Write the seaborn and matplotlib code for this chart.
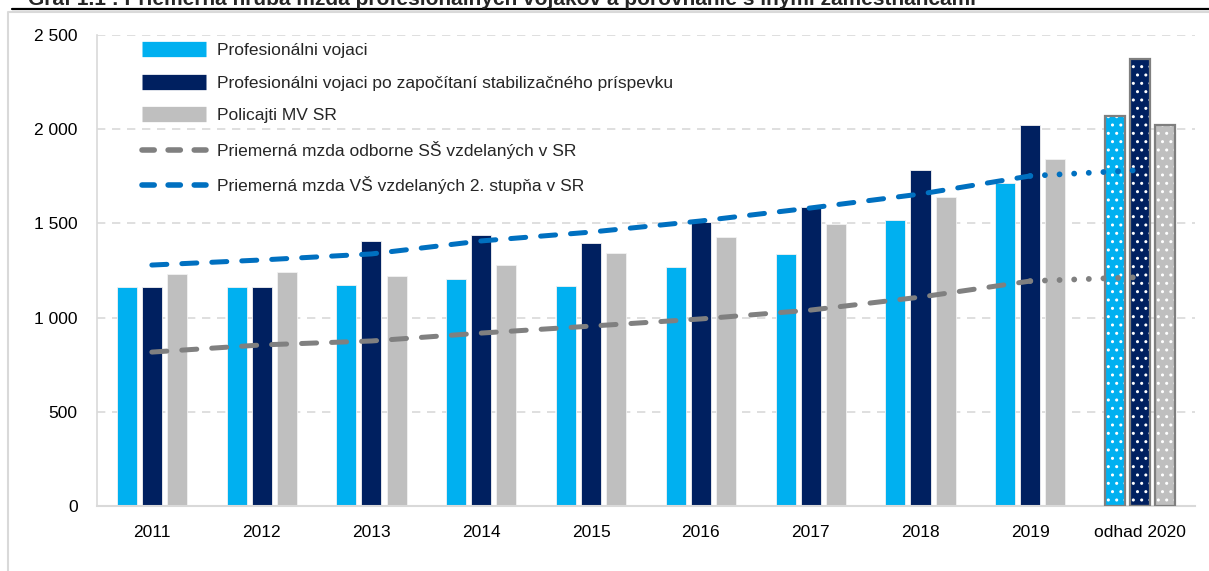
import numpy as np
import pandas as pd
import matplotlib
matplotlib.use("Agg")
import matplotlib.pyplot as plt
import seaborn as sns
from matplotlib.lines import Line2D
from matplotlib.patches import Rectangle
from matplotlib.ticker import FuncFormatter, MultipleLocator

# data
roky = ["2011", "2012", "2013", "2014", "2015", "2016", "2017", "2018", "2019", "odhad 2020"]
vojaci = [1162, 1162, 1173, 1205, 1168, 1269, 1338, 1518, 1714, 2070]
vojaci_stab = [1162, 1162, 1407, 1438, 1396, 1507, 1587, 1783, 2022, 2373]
policajti = [1231, 1242, 1221, 1279, 1343, 1428, 1497, 1640, 1842, 2022]
mzda_ss = [817, 855, 876, 918, 955, 993, 1040, 1109, 1194, 1215]
mzda_vs = [1279, 1306, 1338, 1407, 1454, 1513, 1582, 1656, 1752, 1783]

lab_voj = "Profesionálni vojaci"
lab_stab = "Profesionálni vojaci po započítaní stabilizačného príspevku"
lab_pol = "Policajti MV SR"
lab_ss = "Priemerná mzda odborne SŠ vzdelaných v SR"
lab_vs = "Priemerná mzda VŠ vzdelaných 2. stupňa v SR"

c_voj = "#00b0f0"
c_stab = "#002060"
c_pol = "#bfbfbf"
c_ss = "#808080"
c_vs = "#0070c0"

sns.set_style("white")
plt.rcParams["font.family"] = ["Liberation Sans", "DejaVu Sans"]

df = pd.DataFrame({
    "rok": roky * 3,
    "mzda": vojaci + vojaci_stab + policajti,
    "skupina": [lab_voj] * len(roky) + [lab_stab] * len(roky) + [lab_pol] * len(roky),
})

fig = plt.figure(figsize=(12.09, 5.71), dpi=100)
ax = fig.add_axes([0.0802, 0.1138, 0.9082, 0.8249])

sns.barplot(data=df, x="rok", y="mzda", hue="skupina",
            palette=[c_voj, c_stab, c_pol], saturation=1, width=0.685, gap=0.2,
            edgecolor="#f2f2f2", linewidth=0.6, legend=False, ax=ax)

# estimate for 2020: dotted fill with grey border
for cont in ax.containers:
    bar = cont.patches[-1]
    bar.set_hatch("..")
    bar.set_edgecolor("white")
    bar.set_linewidth(0)
    ax.add_patch(Rectangle(bar.get_xy(), bar.get_width(), bar.get_height(),
                           fill=False, edgecolor="#7f7f7f", linewidth=1.6, zorder=3))

pos = np.arange(len(roky))
for vals, col in [(mzda_ss, c_ss), (mzda_vs, c_vs)]:
    sns.lineplot(x=pos[:9], y=vals[:9], color=col, linewidth=3.6, ax=ax)
    ax.lines[-1].set_linestyle((0, (3, 3)))
    ax.lines[-1].set_dash_capstyle("round")
    ax.lines[-1].set_zorder(4)
    sns.lineplot(x=pos[8:], y=vals[8:], color=col, linewidth=4.2, ax=ax)
    ax.lines[-1].set_linestyle((0, (0.01, 2.5)))
    ax.lines[-1].set_dash_capstyle("round")
    ax.lines[-1].set_zorder(4)

ax.set_xlim(-0.5, 9.5)
ax.set_ylim(0, 2500)
ax.yaxis.set_major_locator(MultipleLocator(500))
ax.yaxis.set_major_formatter(FuncFormatter(lambda v, p: f"{int(v):,}".replace(",", " ")))
ax.grid(axis="y", color="#d9d9d9", linestyle=(0, (5, 4)), linewidth=1.2)
ax.set_axisbelow(True)
ax.set_xlabel("")
ax.set_ylabel("")
ax.tick_params(axis="both", length=0, labelsize=12.5, colors="black")
ax.tick_params(axis="y", pad=14)
ax.tick_params(axis="x", pad=14)
for s in ["top", "right"]:
    ax.spines[s].set_visible(False)
ax.spines["left"].set_color("#d9d9d9")
ax.spines["bottom"].set_color("#d9d9d9")
ax.spines["left"].set_linewidth(1.2)
ax.spines["bottom"].set_linewidth(1.5)

handles = [
    Line2D([], [], color=c_voj, linewidth=11, solid_capstyle="butt"),
    Line2D([], [], color=c_stab, linewidth=11, solid_capstyle="butt"),
    Line2D([], [], color=c_pol, linewidth=11, solid_capstyle="butt"),
    Line2D([], [], color=c_ss, linewidth=4, linestyle=(0, (2.2, 2.5)), dash_capstyle="round"),
    Line2D([], [], color=c_vs, linewidth=4, linestyle=(0, (2.2, 2.5)), dash_capstyle="round"),
]
ax.legend(handles, [lab_voj, lab_stab, lab_pol, lab_ss, lab_vs],
          loc="upper left", bbox_to_anchor=(0.027, 1.016), frameon=False,
          fontsize=12.5, handlelength=3.7, handletextpad=0.6, labelspacing=1.0)

# clipped heading and frame of the original page
fig.text(0.023, 1 - 5 / 571, "Graf 1.1 : Priemerná hrubá mzda profesionálnych vojakov a porovnanie s inými zamestnancami",
         fontsize=15, fontweight="bold", va="baseline", ha="left")
fig.add_artist(Line2D([12 / 1209, 1], [1 - 9 / 571] * 2, color="black", linewidth=1.6))
fig.add_artist(Line2D([7.5 / 1209, 7.5 / 1209, 1], [0, 1 - 12 / 571, 1 - 12 / 571],
                      color="#d9d9d9", linewidth=1.5))

fig.savefig("out.png", dpi=100)
